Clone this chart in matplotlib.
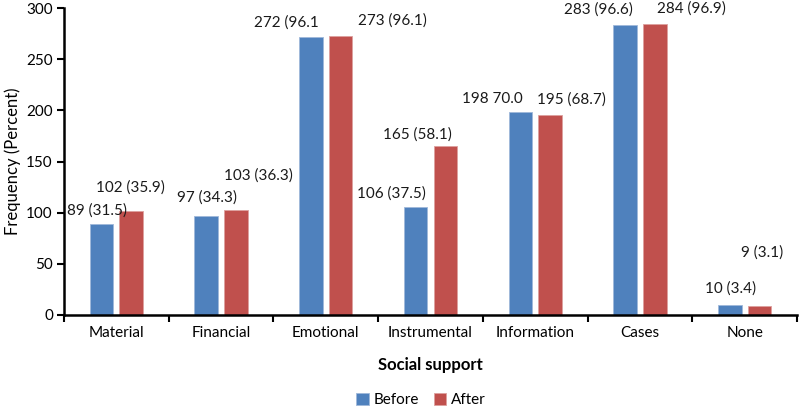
import numpy as np
import matplotlib.pyplot as plt

plt.rcParams['font.family'] = ['Lato', 'DejaVu Sans']

categories = ['Material', 'Financial', 'Emotional', 'Instrumental', 'Information', 'Cases', 'None']
before = [89, 97, 272, 106, 198, 283, 10]
after = [102, 103, 273, 165, 195, 284, 9]
before_labels = ['89 (31.5)', '97 (34.3)', '272 (96.1', '106 (37.5)', '198 70.0', '283 (96.6)', '10 (3.4)']
after_labels = ['102 (35.9)', '103 (36.3)', '273 (96.1)', '165 (58.1)', '195 (68.7)', '284 (96.9)', '9 (3.1)']

# label placement (x offset from category centre, y in data units) - moved by hand like in the original
before_lab_pos = [(-0.185, 102), (-0.134, 115), (-0.38, 286), (-0.37, 119), (-0.41, 211), (-0.395, 298), (-0.139, 26)]
after_lab_pos = [(0.135, 125), (0.353, 136), (0.64, 288), (-0.124, 176), (0.342, 211), (0.489, 299), (0.171, 61)]

blue = '#4F81BD'
red = '#C0504D'

fig = plt.figure(figsize=(8, 4.09), dpi=100)
ax = fig.add_axes([64 / 800, 1 - 315 / 409, 733 / 800, 307 / 409])

x = np.arange(len(categories))
w = 0.226
ax.bar(x - 0.142, before, w, color=blue, edgecolor='#9FB8DA', linewidth=0.6, label='Before')
ax.bar(x + 0.142, after, w, color=red, edgecolor='#DDA09E', linewidth=0.6, label='After')

fs = 11
for i in range(len(categories)):
    dx, yy = before_lab_pos[i]
    ax.text(i + dx, yy, before_labels[i], ha='center', va='center', fontsize=fs, color='#1a1a1a')
    dx, yy = after_lab_pos[i]
    ax.text(i + dx, yy, after_labels[i], ha='center', va='center', fontsize=fs, color='#1a1a1a')

ax.set_xlim(-0.5, len(categories) - 0.5)
ax.set_ylim(0, 300)
ax.set_yticks(range(0, 301, 50))
ax.set_xticks(np.arange(-0.5, len(categories), 1.0))
ax.set_xticklabels([])
ax.set_xticks(x, minor=True)
ax.set_xticklabels(categories, minor=True)
ax.tick_params(axis='x', which='minor', length=0, pad=8, labelsize=fs)
ax.tick_params(axis='x', which='major', length=5, width=1.5, direction='out')
ax.tick_params(axis='y', length=5, width=1.5, labelsize=fs, pad=3)

for s in ['top', 'right']:
    ax.spines[s].set_visible(False)
for s in ['left', 'bottom']:
    ax.spines[s].set_linewidth(1.8)

ax.set_ylabel('Frequency (Percent)', fontsize=12)
ax.yaxis.set_label_coords(-0.058, 0.5)
ax.set_xlabel('Social support', fontsize=12, fontweight='bold', labelpad=12)

ax.legend(loc='center', bbox_to_anchor=(0.487, -0.277), ncol=2, frameon=False,
          fontsize=fs, handlelength=0.8, handleheight=0.8, handletextpad=0.3, columnspacing=1.0)

fig.savefig('out.png', dpi=100)
